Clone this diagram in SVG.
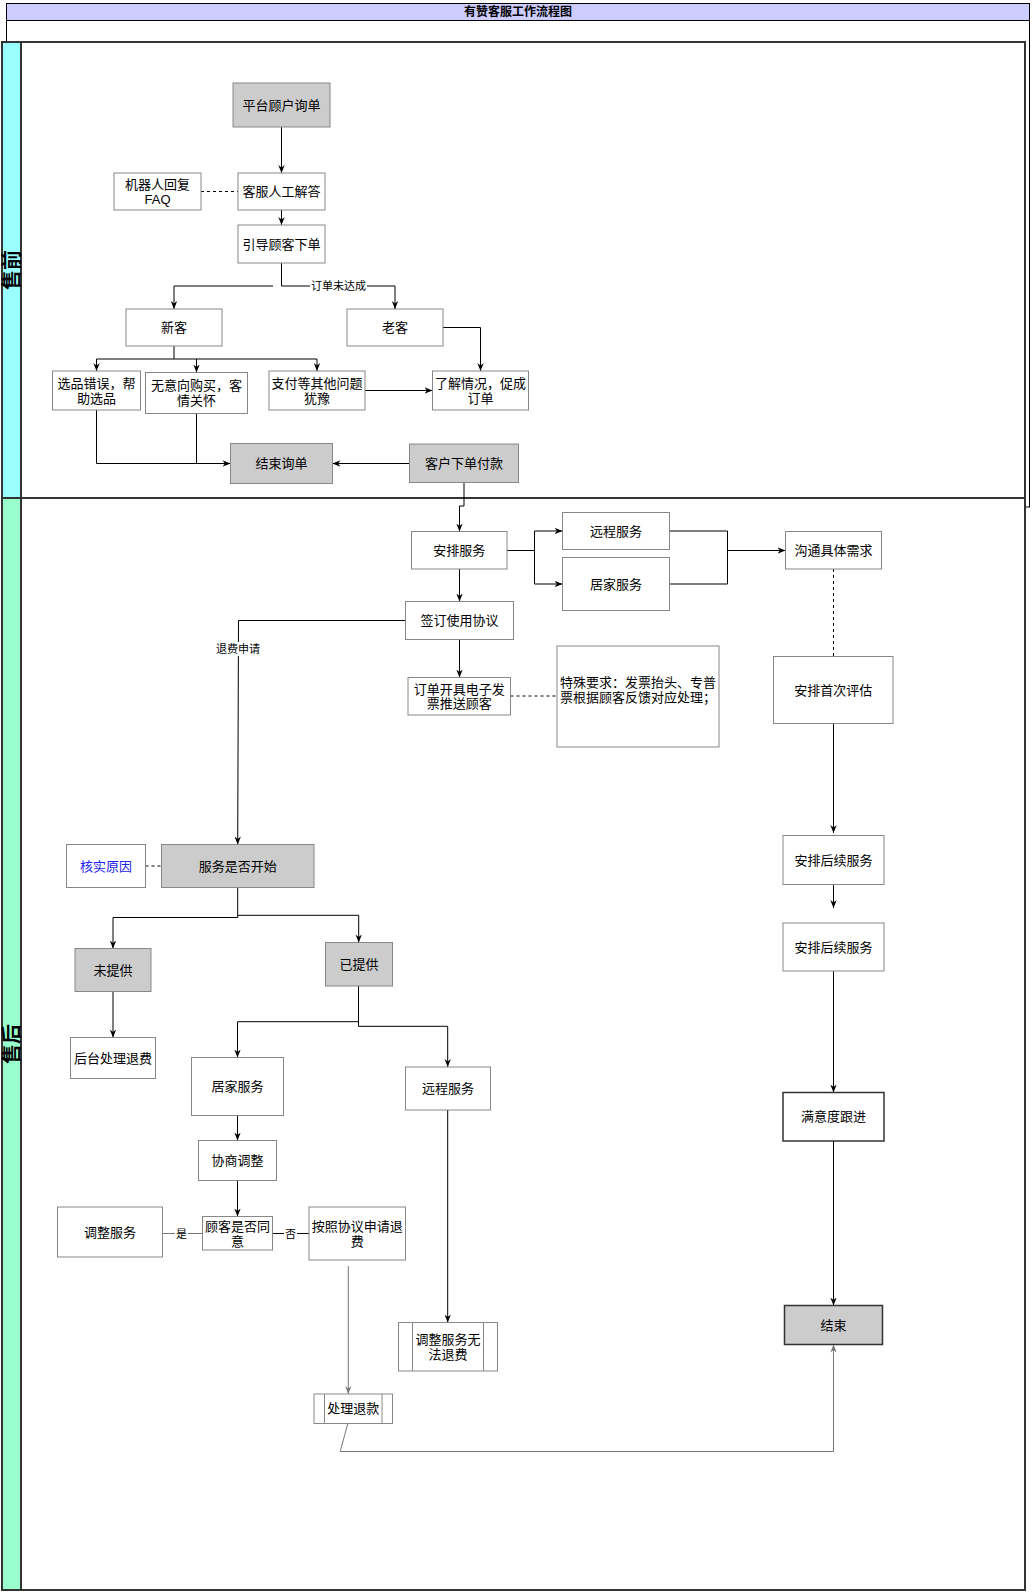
<svg xmlns="http://www.w3.org/2000/svg" width="1032" height="1593" viewBox="0 0 1032 1593">
<defs>
<marker id="arr" viewBox="0 0 10 10" refX="10" refY="5" markerWidth="8" markerHeight="8" markerUnits="userSpaceOnUse" orient="auto">
<path d="M0,1 L10,5 L0,9 L3,5 z" fill="#000"/>
</marker>
<marker id="arrg" viewBox="0 0 10 10" refX="10" refY="5" markerWidth="8" markerHeight="8" markerUnits="userSpaceOnUse" orient="auto">
<path d="M0,1 L10,5 L0,9 L3,5 z" fill="#777"/>
</marker>
<style>
text{font-family:"Liberation Sans","Noto Sans CJK SC",sans-serif;font-size:13px;fill:#000;text-anchor:middle;dominant-baseline:central}
.n{fill:#fff;stroke:#888;stroke-width:1}
.g{fill:#ccc;stroke:#888;stroke-width:1}
.d{fill:#fff;stroke:#333;stroke-width:1.5}
.c{fill:none;stroke:#000;stroke-width:1}
.cg{fill:none;stroke:#777;stroke-width:1}
.ds{fill:none;stroke:#000;stroke-width:1;stroke-dasharray:3 3}
.lbl{font-size:11px}
.lane{fill:#fff;stroke:#333;stroke-width:2}
</style>
</defs>
<rect width="1032" height="1593" fill="#fff"/>
<g id="pool-title">
<rect x="6.5" y="3.5" width="1023" height="503.5" fill="#fff" stroke="#000" stroke-width="1"/>
<rect x="6.5" y="3.5" width="1023" height="17" fill="#CCCCFF" stroke="#000" stroke-width="1"/>
<text x="518" y="12" style="font-weight:bold;font-size:12px">有赞客服工作流程图</text>
</g>
<g id="lane-presale">
<rect class="lane" x="2" y="42" width="1023" height="456"/>
<rect x="2" y="42" width="19" height="456" fill="#99FFFF" stroke="#333" stroke-width="2"/>
<text x="11.5" y="270" transform="rotate(-90 11.5 270)" style="font-size:20px;font-weight:bold">售前</text>
</g>
<g id="lane-aftersale">
<rect class="lane" x="2" y="498" width="1023" height="1092"/>
<rect x="2" y="498" width="19" height="1092" fill="#99FFCC" stroke="#333" stroke-width="2"/>
<text x="11.5" y="1044" transform="rotate(-90 11.5 1044)" style="font-size:20px;font-weight:bold">售后</text>
</g>
<g id="connectors">
<path class="c" d="M281.5,127 V173" marker-end="url(#arr)"/>
<path class="ds" d="M201,191.5 H238"/>
<path class="c" d="M281.5,210 V225" marker-end="url(#arr)"/>
<path class="c" d="M281.5,263 V286 H395 V309" marker-end="url(#arr)"/>
<path class="c" d="M273,286 H174 V309" marker-end="url(#arr)"/>
<path class="c" d="M443,327.5 H480.5 V371" marker-end="url(#arr)"/>
<path class="c" d="M174,346 V359 M96.5,359 H317"/>
<path class="c" d="M96.5,359 V371" marker-end="url(#arr)"/>
<path class="c" d="M196.5,359 V372.5" marker-end="url(#arr)"/>
<path class="c" d="M317,359 V371" marker-end="url(#arr)"/>
<path class="c" d="M365,390.5 H432.5" marker-end="url(#arr)"/>
<path class="c" d="M96.5,410 V463.5 H230.5" marker-end="url(#arr)"/>
<path class="c" d="M196.5,413.5 V463.5"/>
<path class="c" d="M409.5,463.5 H332.5" marker-end="url(#arr)"/>
<path class="c" d="M464,482.5 V506 H459.5 V531.5" marker-end="url(#arr)"/>
<path class="c" d="M507,550.5 H534.5 M534.5,531 V584"/>
<path class="c" d="M534.5,531 H562.5" marker-end="url(#arr)"/>
<path class="c" d="M534.5,584 H562.5" marker-end="url(#arr)"/>
<path class="c" d="M669.5,531 H727.5 V584 H669.5"/>
<path class="c" d="M727.5,550.5 H785.5" marker-end="url(#arr)"/>
<path class="c" d="M459.5,569 V601.5" marker-end="url(#arr)"/>
<path class="c" d="M459.5,639.5 V677.5" marker-end="url(#arr)"/>
<path class="ds" d="M510.5,696 H557"/>
<path class="ds" d="M833.5,569 V656.5"/>
<path class="c" d="M405.5,620.5 H238.5 L237.7,844.5" marker-end="url(#arr)"/>
<rect x="214" y="642" width="48" height="14" fill="#fff"/>
<text class="lbl" x="238" y="649">退费申请</text>
<rect x="310" y="279" width="57" height="14" fill="#fff"/>
<text class="lbl" x="338.5" y="286">订单未达成</text>
<path class="ds" d="M145.5,866 H161.5"/>
<path class="c" d="M237.7,887.5 V917.5 H113 V948.5" marker-end="url(#arr)"/>
<path class="c" d="M237.7,915.3 H358.7 V942.5" marker-end="url(#arr)"/>
<path class="c" d="M113,991.5 V1037.5" marker-end="url(#arr)"/>
<path class="c" d="M358.5,986 V1021.7 H237.5 V1057.5" marker-end="url(#arr)"/>
<path class="c" d="M358.5,1021.7 V1026.3 H447.7 V1067" marker-end="url(#arr)"/>
<path class="c" d="M237.5,1115.5 V1140.5" marker-end="url(#arr)"/>
<path class="c" d="M237.5,1180.5 V1216.5" marker-end="url(#arr)"/>
<path class="cg" d="M162.5,1233.5 H202.5"/>
<rect x="175" y="1226" width="13" height="14" fill="#fff"/>
<text class="lbl" x="181.5" y="1233.5">是</text>
<path class="c" d="M272.5,1233.5 H309"/>
<rect x="284" y="1226" width="13" height="14" fill="#fff"/>
<text class="lbl" x="290.5" y="1233.5">否</text>
<path class="cg" d="M348.3,1266 V1394" marker-end="url(#arrg)"/>
<path class="c" d="M447.7,1110 V1322.5" stroke="#555" marker-end="url(#arr)"/>
<path class="cg" d="M347.8,1423.5 L340.2,1451.5 H833.5 V1344.5" marker-end="url(#arrg)"/>
<path class="c" d="M833.5,723.5 V833" marker-end="url(#arr)"/>
<path class="c" d="M833.5,884.5 V908" marker-end="url(#arr)"/>
<path class="c" d="M833.5,971 V1092.5" marker-end="url(#arr)"/>
<path class="c" d="M833.5,1141 V1305.5" marker-end="url(#arr)"/>
</g>
<g id="n1"><rect class="g" x="233" y="83" width="97" height="44"/><text x="281.5" y="105">平台顾户询单</text></g>
<g id="n2"><rect class="n" x="114" y="173" width="87" height="37"/><text x="157.5" y="184.5">机器人回复</text><text x="157.5" y="199">FAQ</text></g>
<g id="n3"><rect class="n" x="238" y="173" width="87" height="37"/><text x="281.5" y="191.5">客服人工解答</text></g>
<g id="n4"><rect class="n" x="238" y="225" width="87" height="38"/><text x="281.5" y="244">引导顾客下单</text></g>
<g id="n5"><rect class="n" x="126" y="309" width="96" height="37"/><text x="174" y="327.5">新客</text></g>
<g id="n6"><rect class="n" x="347" y="309" width="96" height="37"/><text x="395" y="327.5">老客</text></g>
<g id="n7"><rect class="n" x="52.5" y="371" width="88" height="39"/><text x="96.5" y="383">选品错误，帮</text><text x="96.5" y="398">助选品</text></g>
<g id="n8"><rect class="n" x="145.5" y="372.5" width="102" height="41"/><text x="196.5" y="385.5">无意向购买，客</text><text x="196.5" y="400.5">情关怀</text></g>
<g id="n9"><rect class="n" x="269" y="371" width="96" height="39"/><text x="317" y="383">支付等其他问题</text><text x="317" y="398">犹豫</text></g>
<g id="n10"><rect class="n" x="432.5" y="371" width="96" height="39"/><text x="480.5" y="383">了解情况，促成</text><text x="480.5" y="398">订单</text></g>
<g id="n11"><rect class="g" x="230.5" y="443.5" width="102" height="40"/><text x="281.5" y="463.5">结束询单</text></g>
<g id="n12"><rect class="g" x="409.5" y="444" width="109" height="38.5"/><text x="464" y="463.3">客户下单付款</text></g>
<g id="n13"><rect class="n" x="411.5" y="531.5" width="95.5" height="37.5"/><text x="459.3" y="550.3">安排服务</text></g>
<g id="n14"><rect class="n" x="562.5" y="512.5" width="107" height="37"/><text x="616" y="531">远程服务</text></g>
<g id="n15"><rect class="n" x="562.5" y="557.5" width="107" height="53"/><text x="616" y="584">居家服务</text></g>
<g id="n16"><rect class="n" x="785.5" y="531.5" width="96" height="37.5"/><text x="833.5" y="550.3">沟通具体需求</text></g>
<g id="n17"><rect class="n" x="405.5" y="601.5" width="108" height="38"/><text x="459.5" y="620.5">签订使用协议</text></g>
<g id="n18"><rect class="n" x="408" y="677.5" width="102.5" height="37.5"/><text x="459.3" y="689">订单开具电子发</text><text x="459.3" y="703.5">票推送顾客</text></g>
<g id="n19"><rect class="n" x="557" y="646" width="162" height="101"/><text x="638" y="682">特殊要求：发票抬头、专普</text><text x="638" y="697">票根据顾客反馈对应处理；</text></g>
<g id="n20"><rect class="n" x="773.5" y="656.5" width="119.5" height="67"/><text x="833.3" y="690">安排首次评估</text></g>
<g id="n21"><rect class="n" x="66.5" y="844.5" width="79" height="43"/><text x="106" y="866" style="fill:#2222EE">核实原因</text></g>
<g id="n22"><rect class="g" x="161.5" y="844.5" width="152.5" height="43"/><text x="237.7" y="866">服务是否开始</text></g>
<g id="n23"><rect class="g" x="75" y="948.5" width="76" height="43"/><text x="113" y="970">未提供</text></g>
<g id="n24"><rect class="g" x="325.5" y="942.5" width="67" height="43.5"/><text x="359" y="964.3">已提供</text></g>
<g id="n25"><rect class="n" x="70.5" y="1037.5" width="85" height="41"/><text x="113" y="1058">后台处理退费</text></g>
<g id="n26"><rect class="n" x="191.5" y="1057.5" width="92" height="58"/><text x="237.5" y="1086.5">居家服务</text></g>
<g id="n27"><rect class="n" x="405.5" y="1067" width="85" height="43"/><text x="448" y="1088.5">远程服务</text></g>
<g id="n28"><rect class="n" x="198.5" y="1140.5" width="78" height="40"/><text x="237.5" y="1160.5">协商调整</text></g>
<g id="n29"><rect class="n" x="202.5" y="1216.5" width="70" height="33.5"/><text x="237.5" y="1226">顾客是否同</text><text x="237.5" y="1241">意</text></g>
<g id="n30"><rect class="n" x="57.5" y="1207" width="105" height="50"/><text x="110" y="1232">调整服务</text></g>
<g id="n31"><rect class="n" x="309" y="1207" width="96.5" height="53"/><text x="357.3" y="1226">按照协议申请退</text><text x="357.3" y="1241">费</text></g>
<g id="n32"><rect class="n" x="314" y="1394" width="78.5" height="29.5"/><path d="M324.5,1394 V1423.5 M382,1394 V1423.5" stroke="#888" fill="none"/><text x="353.3" y="1408.8">处理退款</text></g>
<g id="n33"><rect class="n" x="398.5" y="1322.5" width="99" height="48.5"/><path d="M412.5,1322.5 V1371 M483.5,1322.5 V1371" stroke="#888" fill="none"/><text x="448" y="1339">调整服务无</text><text x="448" y="1354">法退费</text></g>
<g id="n34"><rect class="n" x="783" y="835.5" width="101" height="49"/><text x="833.5" y="860">安排后续服务</text></g>
<g id="n35"><rect class="n" x="783" y="923" width="101" height="48"/><text x="833.5" y="947">安排后续服务</text></g>
<g id="n36"><rect class="d" x="783" y="1092.5" width="101" height="48.5"/><text x="833.5" y="1116.8">满意度跟进</text></g>
<g id="n37"><rect class="g" x="784.5" y="1305.5" width="98" height="39" style="stroke:#333;stroke-width:1.5"/><text x="833.5" y="1325">结束</text></g>
</svg>
